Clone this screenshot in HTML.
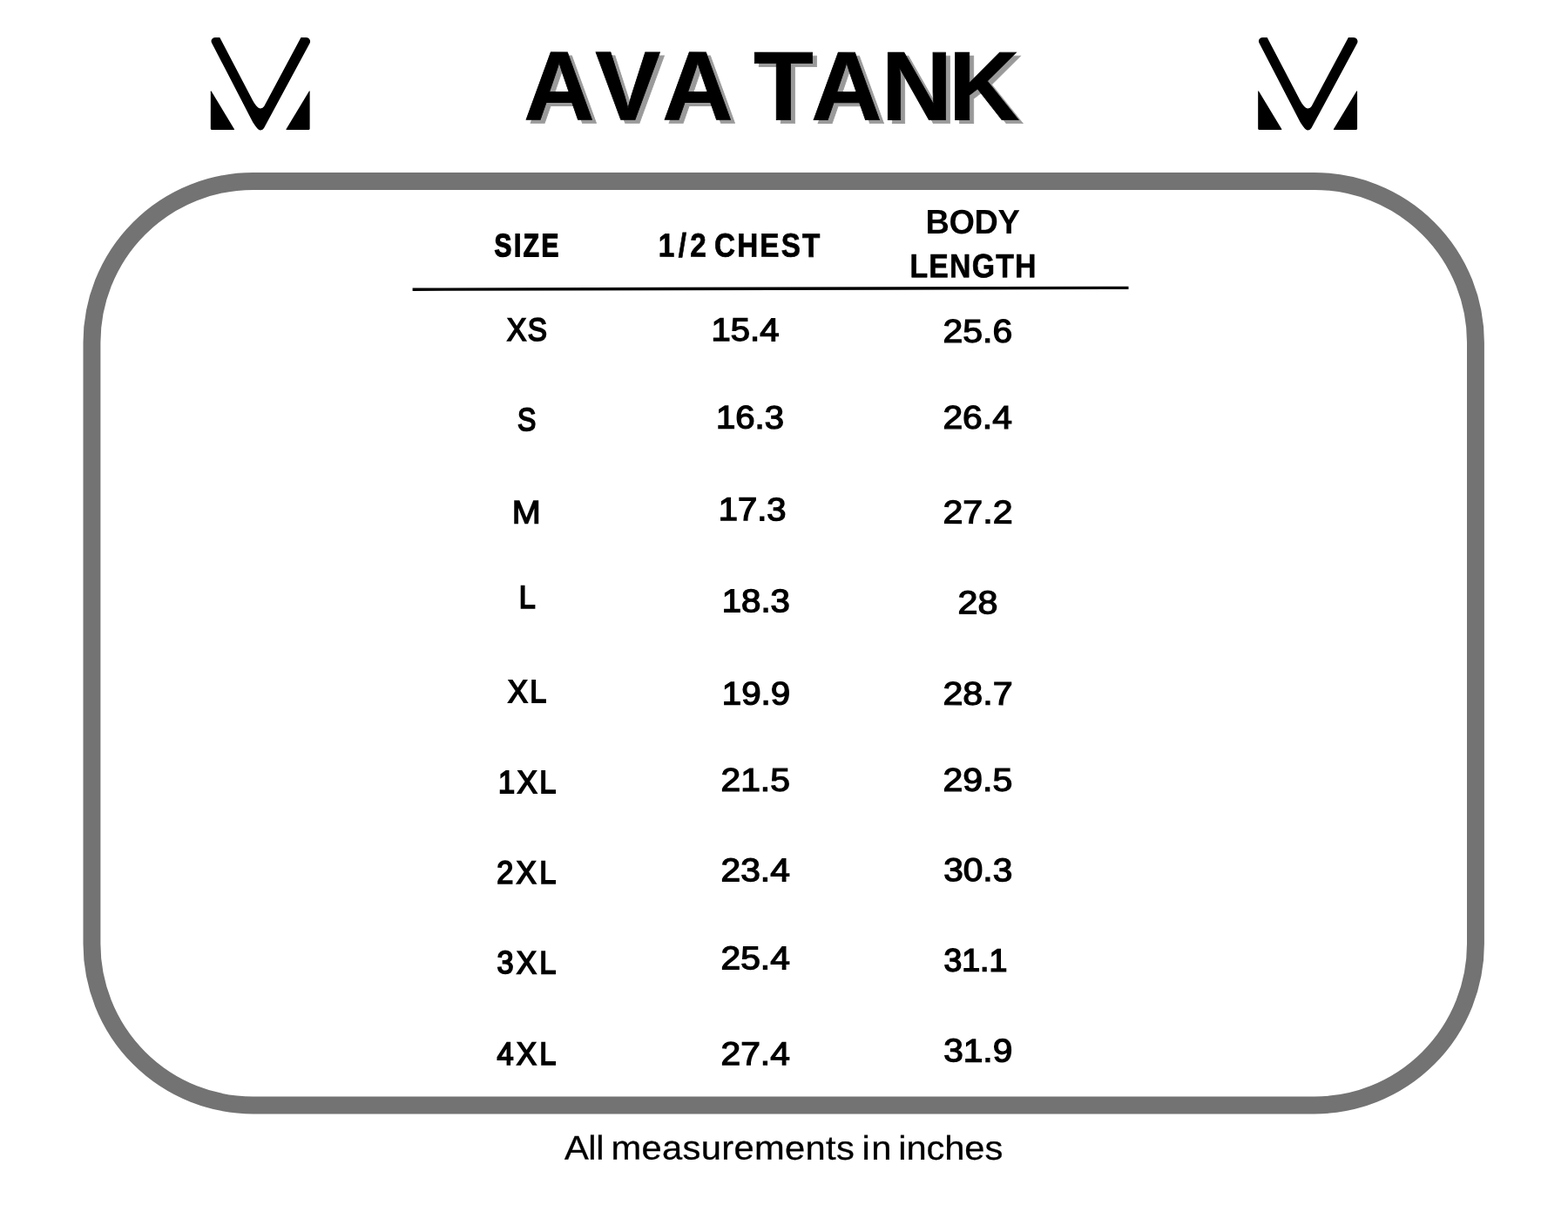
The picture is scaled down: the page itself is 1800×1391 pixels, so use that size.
<!DOCTYPE html>
<html lang="en">
<head>
<meta charset="utf-8">
<title>AVA TANK size chart</title>
<style>
html,body{margin:0;padding:0;background:#fff}
body{width:1800px;height:1391px;overflow:hidden}
svg{display:block}
text{font-family:"Liberation Sans",sans-serif;fill:#000;white-space:pre}
.title{font-weight:700}
.shadow{filter:drop-shadow(5px 4px 0 #9a9a9a)}
.h{font-weight:700}
.d{font-weight:400}
.k{stroke:#000;stroke-linejoin:miter;stroke-miterlimit:3}
.foot{font-weight:400}
</style>
</head>
<body>
<svg width="1800" height="1391" viewBox="0 0 1800 1391">
<rect width="1800" height="1391" fill="#fff"/>
<!-- logos -->
<g fill="#000">
<g transform="translate(-1202.4 0)"><path d="M1454.67 42.89L1492.51 115.16C1494.71 119.37 1498.61 124.49 1501.46 124.49A4.7 4.7 0 0 0 1505.60 122.01L1547.88 42.89L1553.78 42.89A4.7 4.7 0 0 1 1557.92 49.82L1505.43 147.11A4.51 4.51 0 0 1 1501.46 149.48C1498.61 149.48 1493.74 142.23 1491.97 138.88L1445.45 49.17A4.3 4.3 0 0 1 1449.27 42.89Z"/><path d="M1444.2 105.2Q1444.2 103.3 1445.2 104.9L1471.2 147.9Q1471.9 149.1 1470.6 149.1H1445.8Q1444.2 149.1 1444.2 147.5Z"/><path d="M1558.05 105.2Q1558.05 103.3 1557.05 104.9L1531.05 147.9Q1530.35 149.1 1531.65 149.1H1556.45Q1558.05 149.1 1558.05 147.5Z"/></g>
<g transform="translate(0 0)"><path d="M1454.67 42.89L1492.51 115.16C1494.71 119.37 1498.61 124.49 1501.46 124.49A4.7 4.7 0 0 0 1505.60 122.01L1547.88 42.89L1553.78 42.89A4.7 4.7 0 0 1 1557.92 49.82L1505.43 147.11A4.51 4.51 0 0 1 1501.46 149.48C1498.61 149.48 1493.74 142.23 1491.97 138.88L1445.45 49.17A4.3 4.3 0 0 1 1449.27 42.89Z"/><path d="M1444.2 105.2Q1444.2 103.3 1445.2 104.9L1471.2 147.9Q1471.9 149.1 1470.6 149.1H1445.8Q1444.2 149.1 1444.2 147.5Z"/><path d="M1558.05 105.2Q1558.05 103.3 1557.05 104.9L1531.05 147.9Q1530.35 149.1 1531.65 149.1H1556.45Q1558.05 149.1 1558.05 147.5Z"/></g>
</g>
<!-- title -->
<g class="shadow"><text class="title k" font-size="112.51" stroke-width="0.80" x="0.00 82.23 159.10 235.57 263.77 330.00 410.61 487.96" transform="matrix(1.0000 0.0008 0 1 601.15 137.22)">AVA TANK</text></g>
<!-- frame -->
<rect x="105.45" y="207.95" width="1588.50" height="1060.50" rx="185.1" ry="185.1" fill="none" stroke="#737373" stroke-width="19.90"/>
<!-- header rule -->
<line x1="473.6" y1="332.20" x2="1295.5" y2="330.35" stroke="#000" stroke-width="3.40"/>
<!-- table header -->
<g>
<text class="h k" font-size="37.05" stroke-width="1.43" x="0.00 27.86 41.34 67.12" transform="matrix(0.8031 0.0008 0 1 567.62 294.20)">SIZE</text>
<text class="h k" font-size="38.05" stroke-width="0.74" x="0.00 26.12 41.65 62.82 73.49 103.40 133.33 161.14 188.98" transform="matrix(0.8740 0.0008 0 1 755.83 294.49)">1/2 CHEST</text>
<text class="h k" font-size="39.10" stroke-width="0.02" x="0.00 27.82 57.84 85.66" transform="matrix(0.9702 0.0008 0 1 1062.45 267.90)">BODY</text>
<text class="h k" font-size="38.19" stroke-width="0.65" x="0.00 24.67 51.47 80.40 111.44 136.11" transform="matrix(0.8855 0.0008 0 1 1044.52 318.21)">LENGTH</text>
</g>
<!-- table body -->
<g>
<g><text class="d k" font-size="36.53" stroke-width="1.79" x="0.00 26.02" transform="matrix(0.9121 0.0008 0 1 581.97 390.65)">XS</text><text class="d k" font-size="37.15" stroke-width="1.36" transform="matrix(1.0771 0.0008 0 1 816.59 391.09)">15.4</text><text class="d k" font-size="37.30" stroke-width="1.26" transform="matrix(1.0975 0.0008 0 1 1082.52 392.66)">25.6</text></g>
<g><text class="d k" font-size="36.53" stroke-width="1.79" x="0.00" transform="matrix(0.8765 0.0008 0 1 593.90 494.07)">S</text><text class="d k" font-size="37.16" stroke-width="1.36" transform="matrix(1.0786 0.0008 0 1 822.01 491.60)">16.3</text><text class="d k" font-size="37.28" stroke-width="1.27" transform="matrix(1.0948 0.0008 0 1 1082.41 491.64)">26.4</text></g>
<g><text class="d k" font-size="37.09" stroke-width="1.40" x="0.00" transform="matrix(1.0668 0.0008 0 1 587.72 600.54)">M</text><text class="d k" font-size="37.14" stroke-width="1.37" transform="matrix(1.0763 0.0008 0 1 824.80 597.10)">17.3</text><text class="d k" font-size="37.34" stroke-width="1.23" transform="matrix(1.1039 0.0008 0 1 1082.38 600.53)">27.2</text></g>
<g><text class="d k" font-size="36.53" stroke-width="1.79" x="0.00" transform="matrix(0.9323 0.0008 0 1 595.65 697.69)">L</text><text class="d k" font-size="37.17" stroke-width="1.35" transform="matrix(1.0804 0.0008 0 1 828.78 702.25)">18.3</text><text class="d k" font-size="37.34" stroke-width="1.23" transform="matrix(1.1045 0.0008 0 1 1099.49 704.21)">28</text></g>
<g><text class="d k" font-size="36.53" stroke-width="1.79" x="0.00 26.97" transform="matrix(0.9353 0.0008 0 1 582.99 805.94)">XL</text><text class="d k" font-size="37.19" stroke-width="1.33" transform="matrix(1.0838 0.0008 0 1 828.76 808.51)">19.9</text><text class="d k" font-size="37.34" stroke-width="1.23" transform="matrix(1.1039 0.0008 0 1 1082.38 808.67)">28.7</text></g>
<g><text class="d k" font-size="36.53" stroke-width="1.79" x="0.00 23.16 50.39" transform="matrix(0.9405 0.0008 0 1 571.89 910.03)">1XL</text><text class="d k" font-size="37.28" stroke-width="1.27" transform="matrix(1.0953 0.0008 0 1 827.46 907.65)">21.5</text><text class="d k" font-size="37.31" stroke-width="1.25" transform="matrix(1.0991 0.0008 0 1 1082.41 907.66)">29.5</text></g>
<g><text class="d k" font-size="36.53" stroke-width="1.79" x="0.00 24.05 52.16" transform="matrix(0.9405 0.0008 0 1 570.22 1013.75)">2XL</text><text class="d k" font-size="37.27" stroke-width="1.28" transform="matrix(1.0939 0.0008 0 1 827.48 1011.20)">23.4</text><text class="d k" font-size="37.26" stroke-width="1.28" transform="matrix(1.0908 0.0008 0 1 1083.16 1011.09)">30.3</text></g>
<g><text class="d k" font-size="36.53" stroke-width="1.79" x="0.00 23.84 51.74" transform="matrix(0.9405 0.0008 0 1 570.62 1117.11)">3XL</text><text class="d k" font-size="37.27" stroke-width="1.28" transform="matrix(1.0939 0.0008 0 1 827.48 1112.17)">25.4</text><text class="d k" font-size="36.80" stroke-width="1.60" transform="matrix(1.0166 0.0008 0 1 1083.41 1114.59)">31.1</text></g>
<g><text class="d k" font-size="36.53" stroke-width="1.79" x="0.00 23.97 52.00" transform="matrix(0.9405 0.0008 0 1 570.38 1221.67)">4XL</text><text class="d k" font-size="37.27" stroke-width="1.28" transform="matrix(1.0939 0.0008 0 1 827.48 1221.98)">27.4</text><text class="d k" font-size="37.26" stroke-width="1.28" transform="matrix(1.0912 0.0008 0 1 1083.15 1218.36)">31.9</text></g>
</g>
<!-- footnote -->
<text class="foot k" font-size="38.60" stroke-width="0.30" x="0.00 25.32 33.50 42.08 49.37 81.78 103.52 125.26 144.85 166.59 179.72 201.46 233.89 255.63 277.37 288.38 307.69 315.76 325.52 346.99 354.40 362.84 384.16 403.33 424.66 445.99" transform="matrix(1.0818 0.0008 0 1 647.98 1330.46)">All measurements in inches</text>
</svg>
</body>
</html>
